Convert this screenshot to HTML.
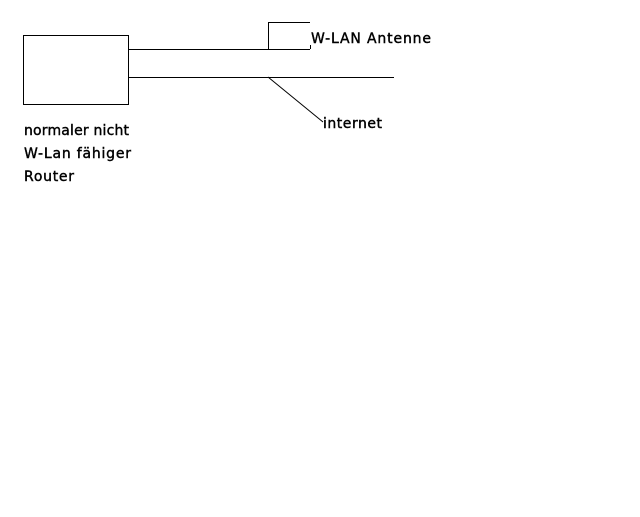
<!DOCTYPE html>
<html><head><style>
body{margin:0;background:#fff;width:640px;height:512px;overflow:hidden}
svg text{font-family:"DejaVu Sans","Liberation Sans",sans-serif;font-size:14px;fill:#000;stroke:#000;stroke-width:0.4}
</style></head><body>
<svg width="640" height="512" xmlns="http://www.w3.org/2000/svg">
<rect x="23.5" y="35.5" width="105" height="69" fill="none" stroke="#000" stroke-width="1"/>
<line x1="128" y1="49.5" x2="310" y2="49.5" stroke="#000"/>
<line x1="128" y1="77.5" x2="394" y2="77.5" stroke="#000"/>
<polyline points="268.5,49 268.5,22.5 310,22.5" fill="none" stroke="#000"/>
<line x1="310.5" y1="45" x2="310.5" y2="49" stroke="#000"/>
<line x1="268" y1="77" x2="323" y2="122" stroke="#000"/>
<text x="311" y="43" textLength="120">W-LAN Antenne</text>
<text x="323" y="128" textLength="59">internet</text>
<text x="24" y="135" textLength="105">normaler nicht</text>
<text x="24" y="158" textLength="107">W-Lan fähiger</text>
<text x="24" y="181" textLength="50">Router</text>
</svg>
</body></html>
